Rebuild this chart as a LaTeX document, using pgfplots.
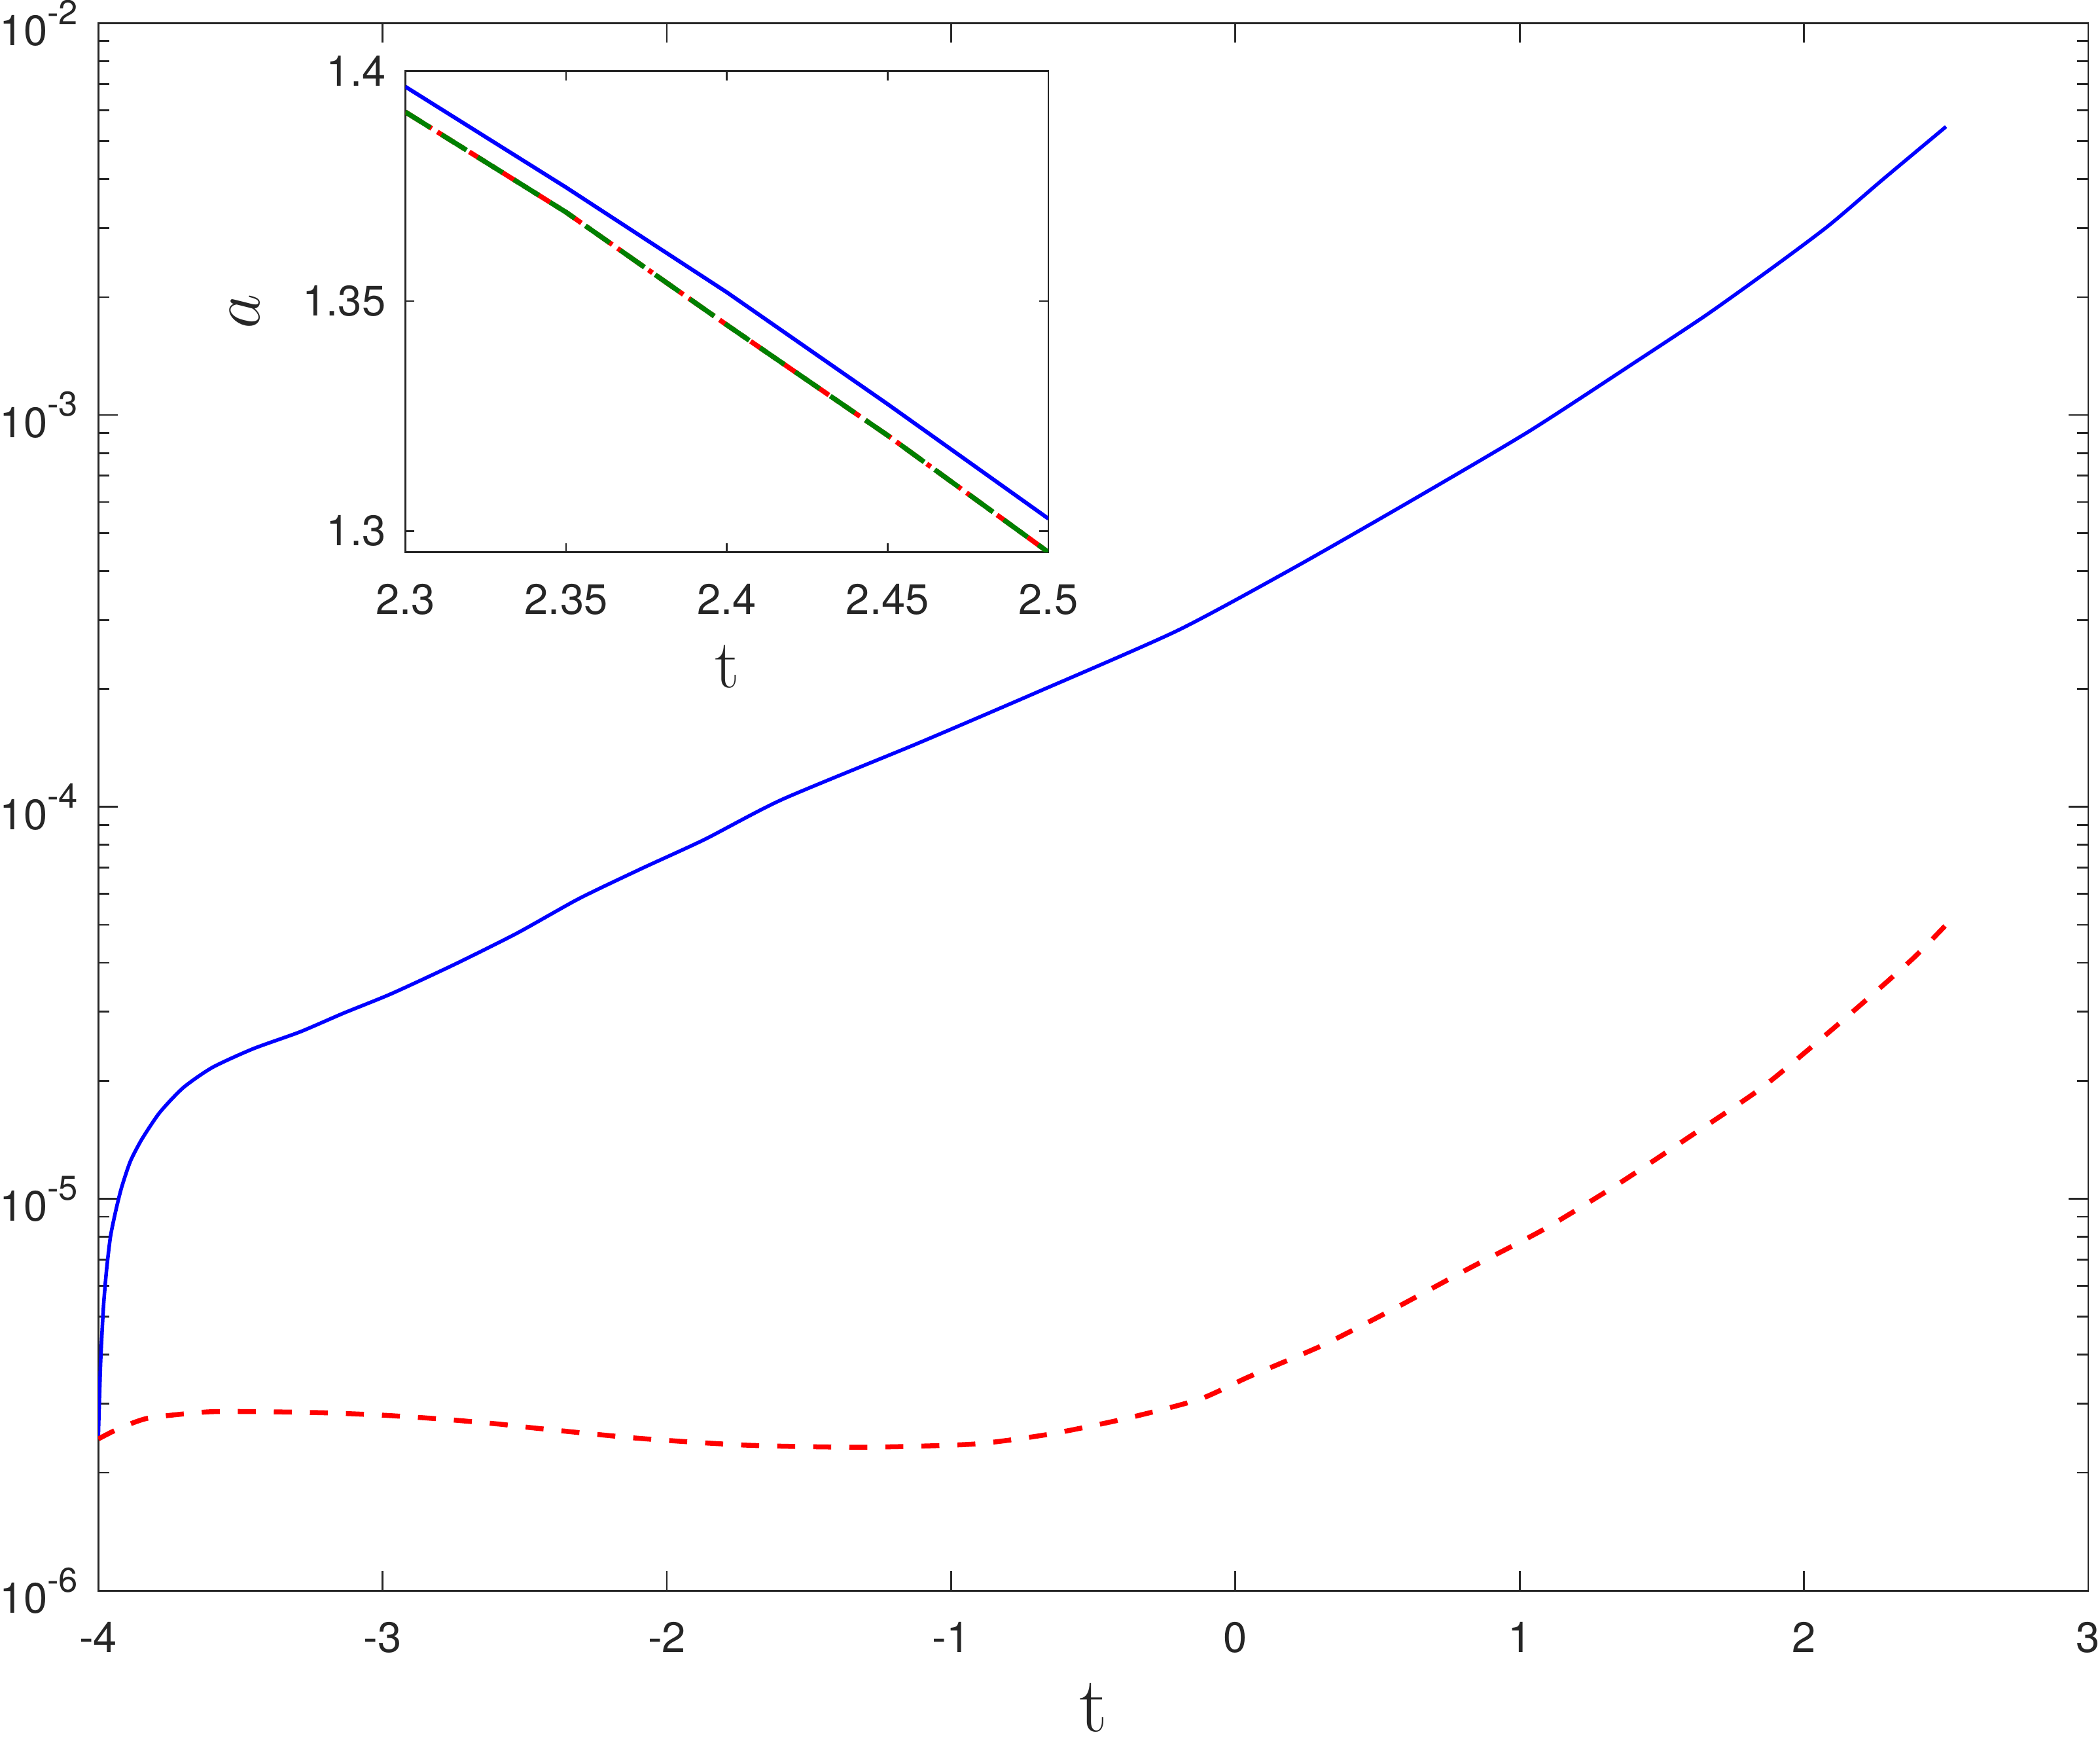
\documentclass[border=0pt]{standalone}
\usepackage{fontspec}
\usepackage{pgfplots}
\pgfplotsset{compat=1.18}
\newfontfamily\helv{TeX Gyre Heros}
\definecolor{axgray}{RGB}{38,38,38}
\definecolor{mgreen}{RGB}{0,128,0}
\newcommand{\tp}[1]{10\raisebox{6.5pt}{\fontsize{10.5}{10.5}\selectfont -#1}}

\begin{document}
\begin{tikzpicture}
% main axis: errors on a log scale
\begin{axis}[
  name=main, at={(0,0)}, anchor=south west,
  scale only axis, width=607.2pt, height=478.2pt,
  xmin=-4, xmax=3, ymode=log, ymin=1e-6, ymax=1e-2,
  xtick={-4,-3,-2,-1,0,1,2,3},
  xticklabels={-4,-3,-2,-1,0,1,2,3},
  ytick={1e-6,1e-5,1e-4,1e-3,1e-2},
  yticklabels={\tp{6},\tp{5},\tp{4},\tp{3},\tp{2}},
  ticklabel style={font=\helv\fontsize{13}{15}\selectfont, text=axgray, inner sep=0pt},
  xticklabel style={yshift=-9.5pt},
  yticklabel style={xshift=-6pt},
  axis line style={axgray, line width=0.55pt},
  every tick/.style={axgray, line width=0.55pt},
  major tick length=6pt, minor tick length=3.4pt,
  tick align=inside,
  xlabel={t},
  xlabel style={font=\fontsize{24}{24}\selectfont, text=axgray,
    at={(axis description cs:0.5,0)}, anchor=center, yshift=-35.6pt},
]
\addplot[blue, line width=1.1pt, smooth, tension=0.4] coordinates {
(-4.000,2.438e-6) (-3.992,3.793e-6) (-3.982,5.272e-6) (-3.971,6.577e-6)
(-3.957,8.017e-6) (-3.938,9.354e-6) (-3.918,1.069e-5) (-3.887,1.247e-5)
(-3.846,1.422e-5) (-3.784,1.660e-5) (-3.702,1.919e-5) (-3.599,2.163e-5)
(-3.455,2.415e-5) (-3.290,2.667e-5) (-3.136,2.979e-5) (-2.970,3.334e-5)
(-2.750,3.954e-5) (-2.529,4.753e-5) (-2.309,5.834e-5) (-2.088,6.966e-5)
(-1.867,8.260e-5) (-1.594,1.045e-4) (-1.118,1.452e-4) (-0.706,1.950e-4)
(-0.204,2.818e-4) (0.208,4.083e-4) (0.620,6.053e-4) (1.032,9.078e-4)
(1.402,1.358e-3) (1.658,1.803e-3) (1.897,2.399e-3) (2.088,3.048e-3)
(2.279,4.000e-3) (2.500,5.445e-3)
};
\addplot[red, line width=1.5pt, dash pattern=on 5.5pt off 5.5pt, smooth, tension=0.4] coordinates {
(-4.000,2.438e-6) (-3.935,2.576e-6) (-3.826,2.754e-6) (-3.619,2.858e-6)
(-3.455,2.864e-6) (-3.208,2.844e-6) (-3.003,2.805e-6) (-2.796,2.742e-6)
(-2.590,2.661e-6) (-2.492,2.612e-6) (-2.103,2.449e-6) (-1.715,2.350e-6)
(-1.310,2.323e-6) (-0.922,2.366e-6) (-0.657,2.506e-6) (-0.392,2.742e-6)
(-0.128,3.076e-6) (0.045,3.508e-6) (0.309,4.236e-6) (0.565,5.272e-6)
(0.821,6.637e-6) (1.085,8.356e-6) (1.341,1.084e-5) (1.597,1.439e-5)
(1.853,1.923e-5) (2.109,2.742e-5) (2.373,4.036e-5) (2.500,5.000e-5)
};
\end{axis}
% inset: a(t) near the end
\begin{axis}[
  at={(93.7pt,316.8pt)}, anchor=south west,
  scale only axis, width=196.2pt, height=146.8pt,
  axis background/.style={fill=white},
  xmin=2.3, xmax=2.5, ymin=1.2954, ymax=1.4,
  xtick={2.3,2.35,2.4,2.45,2.5},
  xticklabels={2.3,2.35,2.4,2.45,2.5},
  ytick={1.3,1.35,1.4},
  yticklabels={1.3,1.35,1.4},
  ticklabel style={font=\helv\fontsize{13}{15}\selectfont, text=axgray, inner sep=0pt},
  xticklabel style={yshift=-9.5pt},
  yticklabel style={xshift=-5.8pt},
  axis line style={axgray, line width=0.55pt},
  every tick/.style={axgray, line width=0.55pt},
  major tick length=2.8pt, tick align=inside,
  xlabel={t}, ylabel={$a$},
  xlabel style={font=\fontsize{21}{21}\selectfont, text=axgray,
    at={(axis description cs:0.5,0)}, anchor=center, yshift=-35pt},
  ylabel style={font=\fontsize{22}{22}\selectfont, text=axgray,
    at={(axis description cs:0,0.5)}, anchor=center, yshift=49pt},
]
\addplot[blue, line width=1.2pt] coordinates {
(2.30,1.3966) (2.35,1.3747) (2.40,1.3519) (2.45,1.3276) (2.50,1.3027)
};
\addplot[red, line width=1.5pt, dash pattern=on 6pt off 2pt on 1.5pt off 2pt] coordinates {
(2.30,1.3911) (2.35,1.3693) (2.40,1.3448) (2.45,1.3208) (2.50,1.2954)
};
\addplot[mgreen, line width=1.5pt, dash pattern=on 9pt off 4pt] coordinates {
(2.30,1.3911) (2.35,1.3693) (2.40,1.3448) (2.45,1.3208) (2.50,1.2954)
};
\end{axis}
\end{tikzpicture}
\end{document}
